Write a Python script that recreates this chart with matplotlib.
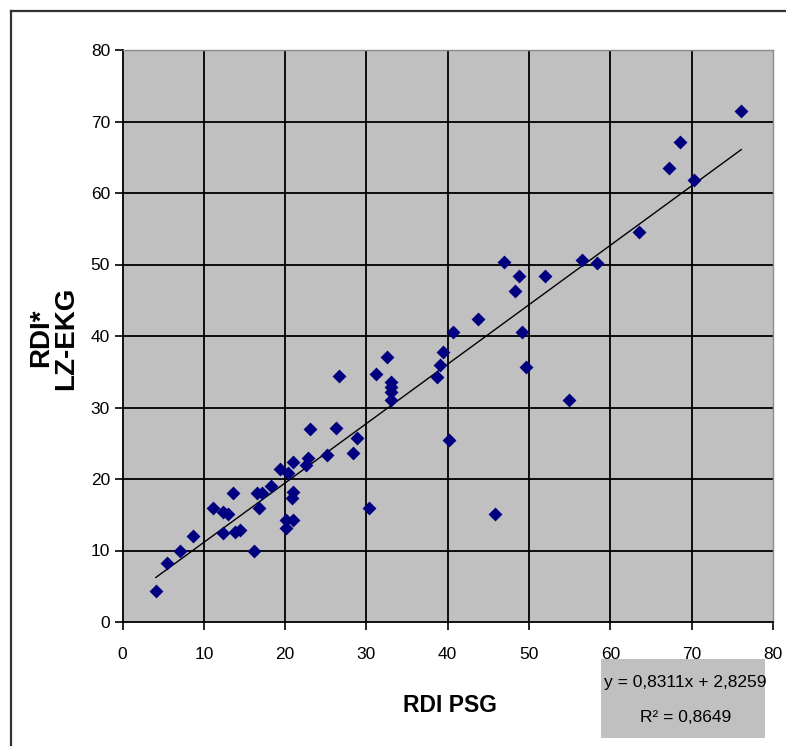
import matplotlib
matplotlib.use("Agg")
import matplotlib.pyplot as plt
from matplotlib.lines import Line2D
from matplotlib.patches import Rectangle
import numpy as np

plt.rcParams['font.family'] = ['Liberation Sans', 'DejaVu Sans']

# Data
rdi_psg = [4.1, 5.5, 7.1, 8.7, 11.1, 12.3, 13.0, 13.6, 12.3, 13.8,
           14.5, 16.2, 16.5, 17.1, 16.8, 18.3, 19.4, 21.0, 20.3, 21.0,
           20.8, 20.1, 21.0, 20.1, 22.8, 22.6, 23.1, 25.1, 26.2, 26.6,
           28.8, 28.3, 30.3, 31.2, 32.5, 33.0, 33.0, 33.0, 33.0, 38.7,
           39.1, 39.4, 40.2, 40.7, 43.7, 45.8, 46.9, 48.3, 48.8, 49.1,
           49.6, 52.0, 54.9, 56.5, 58.3, 63.5, 67.2, 68.6, 70.3, 76.1]
rdi_ekg = [4.3, 8.2, 10.0, 12.0, 15.9, 15.4, 15.1, 18.0, 12.5, 12.6,
           12.9, 10.0, 18.0, 18.0, 15.9, 19.0, 21.4, 22.4, 20.8, 18.2,
           17.3, 14.3, 14.3, 13.1, 22.9, 22.0, 27.0, 23.4, 27.2, 34.4,
           25.7, 23.6, 15.9, 34.7, 37.0, 33.6, 32.9, 32.2, 31.0, 34.3,
           35.9, 37.8, 25.5, 40.5, 42.4, 15.1, 50.3, 46.3, 48.4, 40.5,
           35.6, 48.4, 31.0, 50.6, 50.2, 54.6, 63.5, 67.2, 61.8, 71.5]
slope = 0.8311
intercept = 2.8259
r_squared = 0.8649
equation_text = "y = 0,8311x + 2,8259"
r2_text = "R² = 0,8649"
x_ticks = [0, 10, 20, 30, 40, 50, 60, 70, 80]
y_ticks = [0, 10, 20, 30, 40, 50, 60, 70, 80]
x_label = "RDI PSG"
y_label = "RDI*\nLZ-EKG"

W, H = 786, 746
fig = plt.figure(figsize=(W / 100, H / 100), dpi=100)
fig.patch.set_facecolor('white')

left, right, top, bottom = 122.5, 773, 50, 622
ax = fig.add_axes([left / W, 1 - bottom / H, (right - left) / W, (bottom - top) / H])
ax.set_facecolor('#c0c0c0')
ax.set_xlim(0, 80)
ax.set_ylim(0, 80)
ax.set_xticks(x_ticks)
ax.set_yticks(y_ticks)
ax.tick_params(direction='out', length=6, width=1.2, labelsize=12.5, colors='black')
ax.tick_params(axis='x', pad=12)
ax.tick_params(axis='y', pad=3)

# grid lines (not at the max value)
for v in x_ticks[1:-1]:
    ax.axvline(v, color='black', lw=1.3, zorder=1)
for v in y_ticks[1:-1]:
    ax.axhline(v, color='black', lw=1.3, zorder=1)

for s in ['top', 'right']:
    ax.spines[s].set_color('#8a8a8a')
    ax.spines[s].set_linewidth(1.0)
for s in ['left', 'bottom']:
    ax.spines[s].set_color('black')
    ax.spines[s].set_linewidth(1.3)

# trendline
xs = np.array([min(rdi_psg), max(rdi_psg)])
ax.plot(xs, slope * xs + intercept, color='black', lw=1.0, zorder=2)

# points
ax.scatter(rdi_psg, rdi_ekg, marker='D', s=50, color='#000080', zorder=3, linewidths=0)

# labels
fig.text(450 / W, 1 - 705 / H, x_label, ha='center', va='center', fontsize=16.5,
         fontweight='bold')
fig.text(54 / W, 1 - 338 / H, y_label, ha='center', va='center', rotation=90,
         fontsize=20, fontweight='bold', multialignment='center', linespacing=0.95)

# equation box
fig.add_artist(Rectangle((601 / W, 1 - 738 / H), (765 - 601) / W, (738 - 659) / H,
                         transform=fig.transFigure, facecolor='#c0c0c0', edgecolor='none', zorder=0))
fig.text(685 / W, 1 - 682 / H, equation_text, ha='center', va='center', fontsize=12.5)
fig.text(686 / W, 1 - 717 / H, r2_text, ha='center', va='center', fontsize=12.5)

# outer frame (left and top visible)
fig.add_artist(Line2D([11 / W, 11 / W], [0, 1 - 11 / H], transform=fig.transFigure,
                      color='#333333', lw=1.6))
fig.add_artist(Line2D([11 / W, 1], [1 - 11 / H, 1 - 11 / H], transform=fig.transFigure,
                      color='#333333', lw=1.6))

fig.savefig('out.png', dpi=100)
